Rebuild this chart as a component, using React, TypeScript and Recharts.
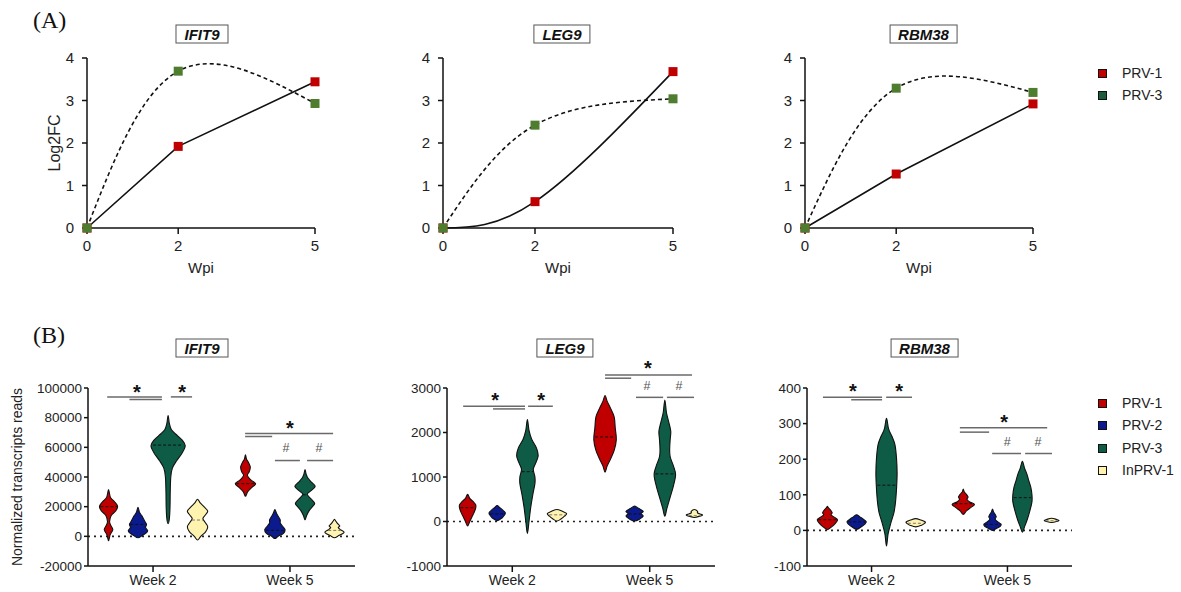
import React from 'react';
import { ComposedChart, LineChart, Line, Scatter, XAxis, YAxis, ReferenceLine, ReferenceDot } from 'recharts';

const FONT = '"Liberation Sans", Arial, sans-serif';

// ---------- (A) line charts ----------
const wpi = [0, 2, 5];
const ifit9Prv1 = [0, 1.92, 3.44];
const ifit9Prv3 = [0, 3.69, 2.93];
const leg9Prv1 = [0, 0.62, 3.68];
const leg9Prv3 = [0, 2.42, 3.04];
const rbm38Prv1 = [0, 1.27, 2.92];
const rbm38Prv3 = [0, 3.29, 3.19];
const topYTicks = [0, 1, 2, 3, 4];

// ---------- (B) violin plots ----------
const groups = ['PRV-1', 'PRV-2', 'PRV-3', 'InPRV-1'];
const weeks = ['Week 2', 'Week 5'];
const weekPos = [2, 6];
const groupOffset = [-1.3, -0.44, 0.44, 1.3];

type Prof = [number, number][]; // [value, relative half-width]

// IFIT9
const ifit9W2Prv1: Prof = [[-3000, 0], [1000, 1.5], [4500, 4], [7500, 2], [10000, 1], [14000, 2.5], [17000, 6.5], [20000, 8.5], [23000, 6], [26000, 2], [28500, 1], [31500, 0]];
const ifit9W2Prv2: Prof = [[-1000, 0], [500, 4], [2500, 8], [4000, 9], [6000, 7], [8000, 8], [10000, 6.5], [12000, 5], [14000, 3.5], [16000, 1.5], [19500, 0]];
const ifit9W2Prv3: Prof = [[8500, 0], [12000, 1.2], [20000, 1.8], [30000, 2], [40000, 2.5], [46000, 4], [51000, 8], [56000, 13], [61000, 16], [65000, 13], [69000, 7], [72000, 3], [76000, 1.2], [81500, 0]];
const ifit9W2In: Prof = [[-2500, 0], [0, 3], [3000, 7.5], [6500, 9.5], [9500, 7], [12000, 5], [14500, 7.5], [17000, 9.5], [20000, 6], [22500, 2.5], [25000, 0]];
const ifit9W5Prv1: Prof = [[27000, 0], [30000, 2], [33000, 6], [35500, 9.5], [38000, 5], [41000, 1.8], [43500, 3.5], [46500, 4.5], [49500, 3], [52000, 1], [55000, 0]];
const ifit9W5Prv2: Prof = [[-1500, 0], [0, 3], [2000, 8], [4500, 9.5], [7000, 7], [9000, 5], [11000, 5], [13000, 3.5], [15500, 1.5], [18000, 0]];
const ifit9W5Prv3: Prof = [[11000, 0], [14000, 1.5], [17500, 4], [20000, 7], [22200, 9], [25000, 6], [28300, 2], [31000, 6], [33700, 9.5], [36500, 6], [39500, 2.5], [42000, 1], [45000, 0]];
const ifit9W5In: Prof = [[-1000, 0], [500, 4], [2700, 9], [4500, 5.5], [6000, 3.5], [7000, 5], [8500, 3], [10000, 1.5], [11400, 0]];
const ifit9Medians = [20000, 8000, 61500, 11000, 35500, 4000, 28000, 4000];
const ifit9YTicks = [-20000, 0, 20000, 40000, 60000, 80000, 100000];
const ifit9Lines = [[0.66, 2.26, 94000], [1.31, 2.26, 92300], [2.52, 3.14, 94000], [4.69, 7.26, 69300], [4.69, 5.48, 67300], [5.56, 6.29, 51100], [6.5, 7.26, 51100]];
const ifit9Marks: [string, number, number][] = [['*', 1.53, 100000], ['*', 2.85, 100000], ['*', 6.0, 75500], ['#', 5.88, 60000], ['#', 6.85, 60000]];

// LEG9
const leg9W2Prv1: Prof = [[-100, 0], [0, 2], [100, 4], [200, 6], [300, 7.5], [380, 7.5], [450, 5], [520, 2], [610, 0]];
const leg9W2Prv2: Prof = [[20, 0], [80, 4.5], [150, 7], [200, 7.5], [260, 5], [310, 2.5], [360, 0]];
const leg9W2Prv3: Prof = [[-270, 0], [0, 1.5], [300, 3], [600, 5], [850, 7], [1000, 7], [1170, 5.5], [1300, 7.5], [1470, 10], [1650, 8.5], [1850, 4], [2050, 1.5], [2290, 0]];
const leg9W2In: Prof = [[10, 0], [60, 4], [120, 7], [180, 9], [230, 5], [270, 0]];
const leg9W5Prv1: Prof = [[1110, 0], [1250, 2], [1400, 5], [1600, 8.5], [1840, 10.5], [2100, 9.5], [2350, 8.5], [2550, 5], [2700, 2], [2830, 0]];
const leg9W5Prv2: Prof = [[10, 0], [60, 5], [120, 8], [180, 6], [230, 8], [290, 4], [345, 0]];
const leg9W5Prv3: Prof = [[120, 0], [300, 2], [550, 5], [800, 8], [1050, 10], [1250, 8], [1450, 5], [1620, 4.5], [1850, 5], [2030, 5.5], [2250, 3.5], [2450, 1.5], [2730, 0]];
const leg9W5In: Prof = [[90, 0], [120, 5], [150, 7.5], [190, 3], [230, 3], [270, 0]];
const leg9Medians = [310, 170, 1120, 150, 1900, 170, 1070, 130];
const leg9YTicks = [-1000, 0, 1000, 2000, 3000];
const leg9Lines = [[0.57, 2.37, 2590], [1.44, 2.37, 2530], [2.46, 3.18, 2590], [4.7, 7.23, 3290], [4.7, 5.46, 3220], [5.6, 6.39, 2790], [6.5, 7.29, 2790]];
const leg9Marks: [string, number, number][] = [['*', 1.5, 2830], ['*', 2.84, 2830], ['*', 5.95, 3550], ['#', 5.92, 3060], ['#', 6.85, 3060]];

// RBM38
const rbm38W2Prv1: Prof = [[2, 0], [10, 4], [20, 7.5], [30, 9.5], [38, 6], [44, 3.5], [50, 4.5], [57, 3], [63, 1], [68, 0]];
const rbm38W2Prv2: Prof = [[3, 0], [10, 4.5], [18, 8], [25, 9], [32, 6], [38, 3], [44, 0]];
const rbm38W2Prv3: Prof = [[-44, 0], [-10, 1.5], [20, 4], [50, 7], [80, 8.5], [120, 9.5], [160, 10], [200, 9.5], [240, 8], [265, 5], [285, 2], [315, 0]];
const rbm38W2In: Prof = [[10, 0], [14, 5], [19, 8], [24, 9], [29, 5], [33, 0]];
const rbm38W5Prv1: Prof = [[45, 0], [55, 3], [64, 7], [73, 10.5], [80, 6], [87, 3.5], [94, 4.5], [101, 3], [108, 1], [116, 0]];
const rbm38W5Prv2: Prof = [[0, 0], [6, 4], [12, 7.5], [18, 8], [25, 4.5], [32, 2.5], [38, 3.5], [45, 2.5], [52, 1], [60, 0]];
const rbm38W5Prv3: Prof = [[-5, 0], [10, 2], [30, 4.5], [55, 7], [80, 9], [100, 9], [120, 8], [140, 6], [160, 4], [175, 2], [194, 0]];
const rbm38W5In: Prof = [[22, 0], [25, 5], [28, 7], [31, 4.5], [34, 0]];
const rbm38Medians = [30, 24, 127, 20, 75, 17, 92, 27];
const rbm38YTicks = [-100, 0, 100, 200, 300, 400];
const rbm38Lines = [[0.57, 2.31, 374], [1.4, 2.31, 367], [2.43, 3.19, 374], [4.6, 7.17, 288], [4.6, 5.46, 276], [5.55, 6.4, 216], [6.52, 7.31, 216]];
const rbm38Marks: [string, number, number][] = [['*', 1.45, 404], ['*', 2.81, 404], ['*', 5.9, 316], ['#', 5.99, 250], ['#', 6.9, 250]];

const ifit9Violins = [ifit9W2Prv1, ifit9W2Prv2, ifit9W2Prv3, ifit9W2In, ifit9W5Prv1, ifit9W5Prv2, ifit9W5Prv3, ifit9W5In];
const leg9Violins = [leg9W2Prv1, leg9W2Prv2, leg9W2Prv3, leg9W2In, leg9W5Prv1, leg9W5Prv2, leg9W5Prv3, leg9W5In];
const rbm38Violins = [rbm38W2Prv1, rbm38W2Prv2, rbm38W2Prv3, rbm38W2In, rbm38W5Prv1, rbm38W5Prv2, rbm38W5Prv3, rbm38W5In];

// ---------- styles ----------
const RED = '#c00000';
const TOP_GREEN = '#4f7d2f';
const groupColors = ['#c00000', '#0b1a8c', '#0e5c46', '#fff3b0'];
const W_SCALE = 1 / 32;

const emptyShape = () => <g />;

function outline(cx: number, prof: Prof) {
  const right = prof.map(([v, w]) => ({ x: cx + w * W_SCALE, y: v }));
  const left = prof.slice(1, -1).reverse().map(([v, w]) => ({ x: cx - w * W_SCALE, y: v }));
  return [...right, ...left];
}

function widthAt(prof: Prof, v: number) {
  for (let i = 0; i < prof.length - 1; i++) {
    const [a, wa] = prof[i];
    const [b, wb] = prof[i + 1];
    if (v >= a && v <= b) return wa + ((v - a) / (b - a)) * (wb - wa);
  }
  return 0;
}

function smoothClosed(pts: { x: number; y: number }[]) {
  const n = pts.length;
  if (!n) return '';
  let d = `M${pts[0].x},${pts[0].y}`;
  for (let i = 0; i < n; i++) {
    const p0 = pts[(i - 1 + n) % n];
    const p1 = pts[i];
    const p2 = pts[(i + 1) % n];
    const p3 = pts[(i + 2) % n];
    const c1x = p1.x + (p2.x - p0.x) / 6;
    const c1y = p1.y + (p2.y - p0.y) / 6;
    const c2x = p2.x - (p3.x - p1.x) / 6;
    const c2y = p2.y - (p3.y - p1.y) / 6;
    d += ` C${c1x},${c1y} ${c2x},${c2y} ${p2.x},${p2.y}`;
  }
  return d + 'Z';
}

const violinPath = (color: string) => (p: any) => (
  <path d={smoothClosed(p.points || [])} fill={color} stroke="#111" strokeWidth={1.1} />
);

const square = (fill: string) => (p: any) => (
  <rect key={`sq-${p.index}`} x={p.cx - 4.5} y={p.cy - 4.5} width={9} height={9} fill={fill} />
);

function Title({ text, cx, cy }: { text: string; cx: number; cy: number }) {
  return (
    <div
      style={{
        position: 'absolute',
        left: cx,
        top: cy,
        transform: 'translate(-50%, -50%)',
        border: '1px solid #555',
        padding: '0 8px',
        fontFamily: FONT,
        fontWeight: 'bold',
        fontStyle: 'italic',
        fontSize: 15,
        lineHeight: '17px',
        color: '#111',
        whiteSpace: 'nowrap',
        background: '#fff',
      }}
    >
      {text}
    </div>
  );
}

function TopPanel(props: {
  left: number; marginLeft: number; marginRight: number; a: number[]; b: number[]; typeA: any; typeB: any;
}) {
  const data = wpi.map((w, i) => ({ w, a: props.a[i], b: props.b[i] }));
  const tick = { fontFamily: FONT, fontSize: 15, fill: '#222' };
  return (
    <div style={{ position: 'absolute', left: props.left, top: 0 }}>
      <LineChart width={340} height={290} data={data} margin={{ top: 58, left: props.marginLeft, right: props.marginRight, bottom: 12 }}>
        <XAxis
          dataKey="w"
          type="number"
          domain={[0, 5]}
          ticks={wpi}
          height={50}
          tick={tick}
          tickMargin={6}
          stroke="#111"
          strokeWidth={1.5}
          label={{ value: 'Wpi', position: 'insideBottom', offset: 5, style: { fontFamily: FONT, fontSize: 15, fill: '#222' } }}
        />
        <YAxis type="number" domain={[0, 4]} ticks={topYTicks} width={40} tick={tick} tickSize={5} tickMargin={8} stroke="#111" strokeWidth={1.5} />
        <Line dataKey="a" type={props.typeA} stroke="#111" strokeWidth={1.6} dot={square(RED)} isAnimationActive={false} />
        <Line dataKey="b" type={props.typeB} stroke="#111" strokeWidth={1.6} strokeDasharray="4 3" dot={square(TOP_GREEN)} isAnimationActive={false} />
      </LineChart>
    </div>
  );
}

function ViolinPanel(props: {
  left: number; width: number; yAxisW: number; marginLeft: number; marginRight: number;
  domain: [number, number]; ticks: number[]; violins: Prof[]; medians: number[];
  lines: number[][]; marks: [string, number, number][];
}) {
  const tick = { fontFamily: FONT, fontSize: 13.5, fill: '#222' };
  return (
    <div style={{ position: 'absolute', left: props.left, top: 310 }}>
      <ComposedChart width={props.width} height={282} margin={{ top: 78, left: props.marginLeft, right: props.marginRight, bottom: 0 }}>
        <XAxis
          dataKey="x"
          type="number"
          domain={[0.1, 7.9]}
          ticks={weekPos}
          tickFormatter={(v: number) => weeks[weekPos.indexOf(v)] ?? ''}
          height={26}
          tick={{ ...tick, fontSize: 14 }}
          tickSize={6}
          tickMargin={3}
          stroke="#111"
          strokeWidth={1.5}
        />
        <YAxis dataKey="y" type="number" domain={props.domain} ticks={props.ticks} width={props.yAxisW} tick={tick} tickSize={4} tickMargin={2} stroke="#111" strokeWidth={1.5} />
        <ReferenceLine y={0} stroke="#222" strokeWidth={1.6} strokeDasharray="2 4" />
        {props.violins.map((prof, i) => {
          const g = i % 4;
          const cx = weekPos[Math.floor(i / 4)] + groupOffset[g];
          return (
            <Scatter
              key={`v${i}`}
              name={groups[g]}
              data={outline(cx, prof)}
              fill={groupColors[g]}
              shape={emptyShape}
              line={violinPath(groupColors[g])}
              isAnimationActive={false}
            />
          );
        })}
        {props.medians.map((m, i) => {
          const g = i % 4;
          const cx = weekPos[Math.floor(i / 4)] + groupOffset[g];
          const hw = widthAt(props.violins[i], m) * W_SCALE * 0.9;
          return (
            <Scatter
              key={`m${i}`}
              data={[{ x: cx - hw, y: m }, { x: cx + hw, y: m }]}
              fill="#111"
              shape={emptyShape}
              line={{ stroke: g === 3 ? '#777' : '#111', strokeWidth: 1, strokeDasharray: '3 2' }}
              isAnimationActive={false}
            />
          );
        })}
        {props.lines.map(([x1, x2, y], i) => (
          <ReferenceLine
            key={`l${i}`}
            segment={[{ x: x1, y }, { x: x2, y }]}
            stroke="#6a6a6a"
            strokeWidth={1.5}
            ifOverflow="visible"
          />
        ))}
        {props.marks.map(([t, x, y], i) => (
          <ReferenceDot
            key={`k${i}`}
            x={x}
            y={y}
            r={0}
            ifOverflow="visible"
            shape={(p: any) => (
              <text
                x={p.cx}
                y={t === '*' ? p.cy + 11 : p.cy + 4.5}
                textAnchor="middle"
                fontFamily={FONT}
                fontWeight={t === '*' ? 'bold' : 'normal'}
                fontSize={t === '*' ? 20 : 12.5}
                fill={t === '*' ? '#111' : '#555'}
              >
                {t}
              </text>
            )}
          />
        ))}
      </ComposedChart>
    </div>
  );
}

function Legend({ top, items }: { top: number; items: { label: string; color: string }[] }) {
  return (
    <div style={{ position: 'absolute', left: 1096, top }}>
      {items.map((it, i) => (
        <div key={it.label} style={{ position: 'absolute', left: 0, top: i * 22.3, height: 18, whiteSpace: 'nowrap' }}>
          <div style={{ position: 'absolute', left: 2, top: 5, width: 7, height: 7, background: it.color, border: '1px solid #111' }} />
          <div style={{ position: 'absolute', left: 26, top: 0, fontFamily: FONT, fontSize: 14, lineHeight: '18px', color: '#222' }}>{it.label}</div>
        </div>
      ))}
    </div>
  );
}

export default function App() {
  return (
    <div style={{ position: 'absolute', left: 0, top: 0, width: 1181, height: 592, overflow: 'hidden', background: '#fff' }}>
      <div style={{ position: 'absolute', left: 33, top: 6, fontFamily: '"Liberation Serif", serif', fontSize: 24, lineHeight: '28px', color: '#111' }}>(A)</div>
      <div style={{ position: 'absolute', left: 33, top: 321, fontFamily: '"Liberation Serif", serif', fontSize: 24, lineHeight: '28px', color: '#111' }}>(B)</div>

      <TopPanel left={0} marginLeft={47} marginRight={25} a={ifit9Prv1} b={ifit9Prv3} typeA="linear" typeB="natural" />
      <TopPanel left={360} marginLeft={43} marginRight={27} a={leg9Prv1} b={leg9Prv3} typeA="natural" typeB="natural" />
      <TopPanel left={720} marginLeft={45} marginRight={27} a={rbm38Prv1} b={rbm38Prv3} typeA="linear" typeB="natural" />

      <div style={{ position: 'absolute', left: 55, top: 143, transform: 'translate(-50%, -50%) rotate(-90deg)', fontFamily: FONT, fontSize: 16, color: '#222', whiteSpace: 'nowrap' }}>Log2FC</div>

      <Title text="IFIT9" cx={202} cy={33.5} />
      <Title text="LEG9" cx={562} cy={33.5} />
      <Title text="RBM38" cx={923.5} cy={34} />

      <Legend top={64} items={[{ label: 'PRV-1', color: RED }, { label: 'PRV-3', color: '#1d5e3a' }]} />

      <ViolinPanel left={0} width={380} yAxisW={80} marginLeft={8} marginRight={25} domain={[-20000, 100000]} ticks={ifit9YTicks} violins={ifit9Violins} medians={ifit9Medians} lines={ifit9Lines} marks={ifit9Marks} />
      <ViolinPanel left={390} width={340} yAxisW={45} marginLeft={12} marginRight={15} domain={[-1000, 3000]} ticks={leg9YTicks} violins={leg9Violins} medians={leg9Medians} lines={leg9Lines} marks={leg9Marks} />
      <ViolinPanel left={750} width={340} yAxisW={45} marginLeft={12} marginRight={18} domain={[-100, 400]} ticks={rbm38YTicks} violins={rbm38Violins} medians={rbm38Medians} lines={rbm38Lines} marks={rbm38Marks} />

      <div style={{ position: 'absolute', left: 17, top: 477, transform: 'translate(-50%, -50%) rotate(-90deg)', fontFamily: FONT, fontSize: 14, color: '#222', whiteSpace: 'nowrap' }}>Normalized transcripts reads</div>

      <Title text="IFIT9" cx={202} cy={347.5} />
      <Title text="LEG9" cx={565} cy={347.5} />
      <Title text="RBM38" cx={924.5} cy={348} />

      <Legend
        top={394}
        items={groups.map((g, i) => ({ label: g, color: groupColors[i] }))}
      />
    </div>
  );
}
